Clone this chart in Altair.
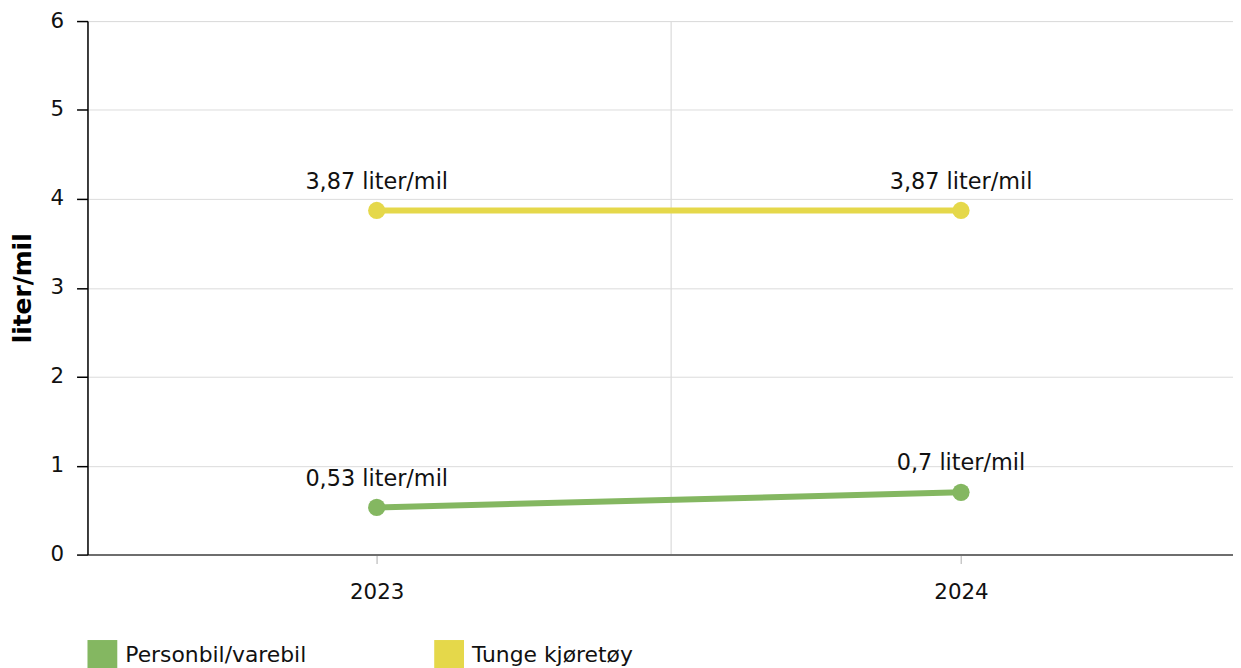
import altair as alt
import pandas as pd

years = [2023, 2024, 2023, 2024]
series = ["Personbil/varebil", "Personbil/varebil", "Tunge kjøretøy", "Tunge kjøretøy"]
values = [0.53, 0.7, 3.87, 3.87]

categories = ["Personbil/varebil", "Tunge kjøretøy"]
colors = ["#84b761", "#e5d84a"]
x_ticks = [2023, 2023.503, 2024]
y_ticks = [0, 1, 2, 3, 4, 5, 6]

df = pd.DataFrame({"year": years, "series": series, "value": values})
df["label"] = [f"{v:g}".replace(".", ",") + " liter/mil" for v in values]

FONT = "DejaVu Sans"

xscale = alt.Scale(domain=[2022.505, 2024.4655], nice=False, zero=False)
yscale = alt.Scale(domain=[0, 6], nice=False)
cscale = alt.Scale(domain=categories, range=colors)

is_mid = "datum.value > 2023.1 && datum.value < 2023.9"

X = alt.X("year:Q", scale=xscale,
          axis=alt.Axis(values=x_ticks, title=None, grid=True,
                        labelExpr=f"({is_mid}) ? '' : format(datum.value, 'd')",
                        gridOpacity={"condition": {"test": is_mid, "value": 1}, "value": 0},
                        tickOpacity={"condition": {"test": is_mid, "value": 0}, "value": 1},
                        gridColor="#e2e2e2", gridWidth=1.5,
                        domainColor="#6e6e6e", domainWidth=2,
                        tickColor="#c8c8c8", tickWidth=1.5, tickSize=9,
                        labelPadding=18, labelFontSize=21.5, labelColor="#111",
                        labelFont=FONT))
Y = alt.Y("value:Q", scale=yscale,
          axis=alt.Axis(values=y_ticks, format="d", title="liter/mil", titleFontSize=25,
                        titleFont=FONT, titleFontWeight="bold", titleColor="#000",
                        titlePadding=15,
                        domainColor="#000", domainWidth=1.5,
                        tickColor="#000", tickWidth=1.5, tickSize=11,
                        labelPadding=13, labelFontSize=21.5, labelColor="#111",
                        labelFont=FONT, gridColor="#dcdcdc", gridWidth=1))

base = alt.Chart(df)

lines = base.mark_line(strokeWidth=6).encode(
    x=X, y=Y,
    color=alt.Color("series:N", scale=cscale,
                    legend=alt.Legend(title=None, orient="none", legendX=0, legendY=623,
                                      direction="horizontal", columns=2,
                                      symbolType="square", symbolSize=900,
                                      symbolStrokeWidth=0, symbolOpacity=1,
                                      labelFontSize=22, labelFont=FONT,
                                      labelColor="#111", labelOffset=8,
                                      columnPadding=128, labelLimit=400)),
)

points = base.mark_circle(size=300, opacity=1).encode(
    x=X, y=Y,
    color=alt.Color("series:N", scale=cscale, legend=None),
)

texts = base.mark_text(fontSize=22.5, font=FONT, color="#111", baseline="middle",
                       dy=-29).encode(
    x=X, y=Y,
    text="label:N",
)

chart = alt.layer(lines, points, texts).properties(
    width=1153,
    height=537,
    autosize=alt.AutoSizeParams(type="none"),
    padding={"left": 80, "top": 11, "right": 0, "bottom": 112},
).configure_view(stroke=None).configure(font=FONT)

chart.save("out.html", embed_options={"renderer": "svg", "actions": False})
